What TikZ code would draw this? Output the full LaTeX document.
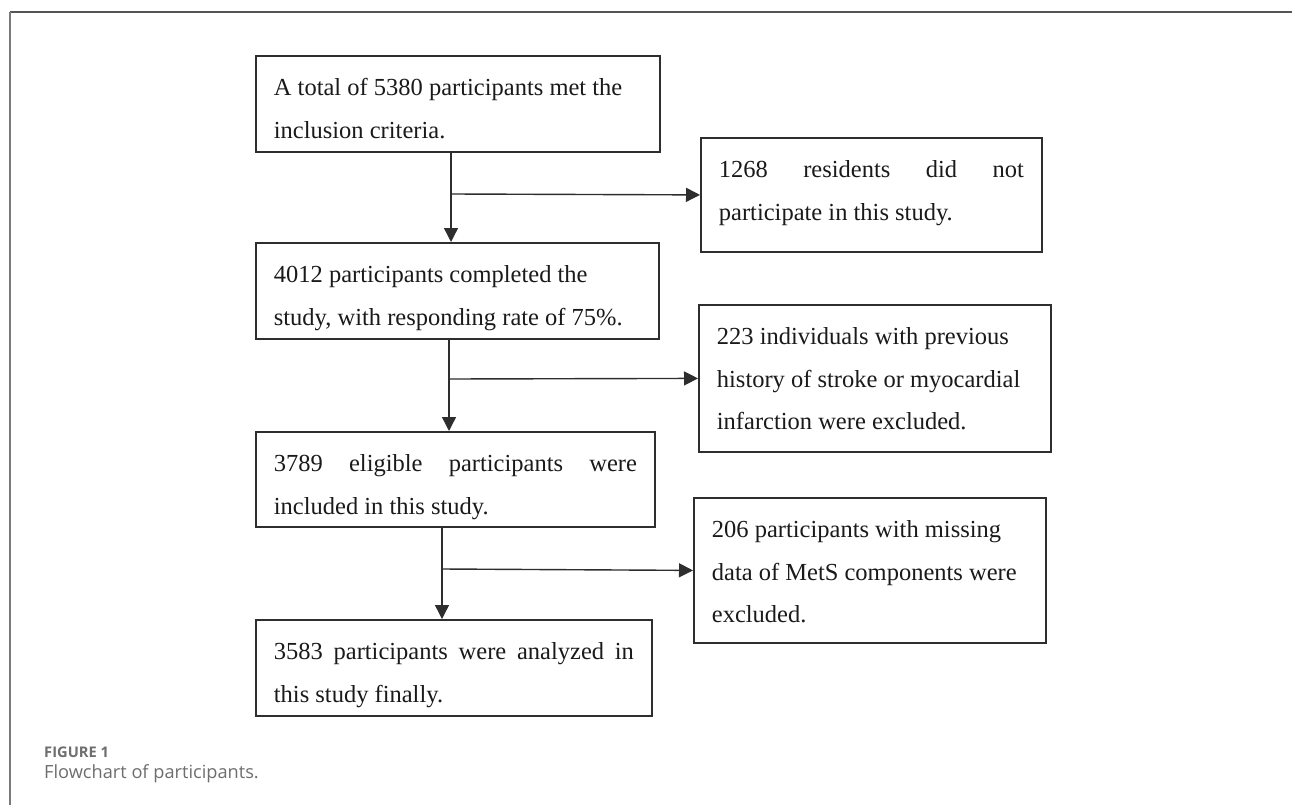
\documentclass[tikz,border=0pt]{standalone}
\usepackage{fontspec}
\setmainfont{Liberation Serif}
\newfontfamily\capfont{Open Sans}
\usetikzlibrary{arrows.meta}
\definecolor{boxline}{HTML}{2E2E2E}
\definecolor{txt}{HTML}{1A1A1A}
\definecolor{frametop}{HTML}{555555}
\definecolor{frameleft}{HTML}{7A7A7A}
\definecolor{capgray}{HTML}{6E6E6E}
\newcommand{\boxtext}[3]{\parbox[c][#1pt][t]{#2pt}{\fontsize{24.5}{42.5}\selectfont\hyphenpenalty=10000\exhyphenpenalty=10000\tolerance=10000\rule{0pt}{40pt}#3}}
\tikzset{
  flowbox/.style={draw=boxline, line width=1.8pt, inner xsep=18pt, inner ysep=0pt, anchor=north west, text=txt, fill=white},
  arr/.style={draw=boxline, line width=1.4pt, -{Triangle[length=14pt,width=14pt]}}
}
\begin{document}
\begin{tikzpicture}[x=1pt,y=-1pt]
\useasboundingbox (0,0) rectangle (1292,805);
\fill[white] (0,0) rectangle (1292,805);
% frame
\coordinate (fc) at (9.5,12);
\coordinate (fr) at (1292,12);
\coordinate (fb) at (9.5,805);
\draw[frametop, line width=2.2pt] (fc) -- (fr);
\draw[frameleft, line width=2pt] (fc) -- (fb);

% boxes
\node[flowbox] (b1) at (255,55) {\boxtext{96}{368}{A total of 5380 participants met the\newline inclusion criteria.}};
\node[flowbox] (r1) at (700,137) {\boxtext{114}{305}{1268 residents did not\linebreak participate in this study.}};
\node[flowbox] (b2) at (255,242) {\boxtext{96}{367}{4012 participants completed the\newline study, with responding rate of 75\%.}};
\node[flowbox] (r2) at (698,304) {\boxtext{147}{316}{223 individuals with previous\newline history of stroke or myocardial\newline infarction were excluded.}};
\node[flowbox] (b3) at (255,431) {\boxtext{95}{363}{3789 eligible participants were\linebreak included in this study.}};
\node[flowbox] (r3) at (693,497) {\boxtext{145}{316}{206 participants with missing\newline data of MetS components were\newline excluded.}};
\node[flowbox] (b4) at (255,619) {\boxtext{96}{360}{3583 participants were analyzed in\linebreak this study finally.}};

% junctions
\coordinate (j1) at (451,194);
\coordinate (j2) at (449,379);
\coordinate (j3) at (442,569);

\draw[arr] (j1 |- b1.south) -- (j1 |- b2.north);
\draw[arr] (j1) -- (r1.west);
\draw[arr] (j2 |- b2.south) -- (j2 |- b3.north);
\draw[arr] (j2) -- (r2.west);
\draw[arr] (j3 |- b3.south) -- (j3 |- b4.north);
\draw[arr] (j3) -- (r3.west);

% caption
\node[anchor=base west, inner sep=0pt, text=capgray, font=\capfont\bfseries\fontsize{14.7}{17}\selectfont] (fig) at (44,757) {FIGURE 1};
\node[anchor=base west, inner sep=0pt, text=capgray, font=\capfont\fontsize{18.2}{21}\selectfont] (cap) at (44,778) {Flowchart of participants.};
\end{tikzpicture}
\end{document}
